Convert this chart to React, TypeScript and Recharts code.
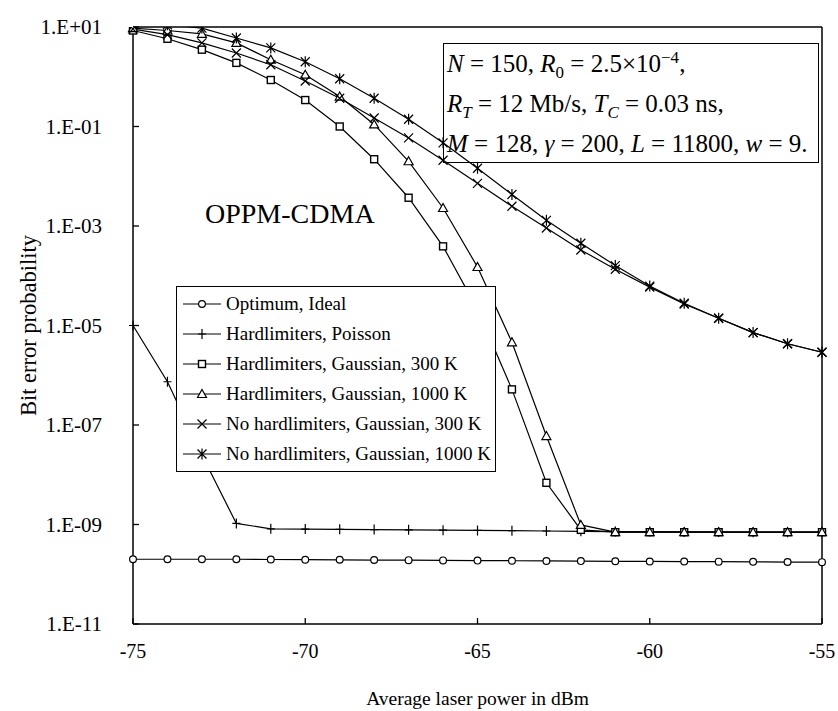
import React from 'react';
import { LineChart, Line, XAxis, YAxis, Legend, ReferenceLine } from 'recharts';

// laser power in dBm (x) and bit error probability for each curve
const power = [-75, -74, -73, -72, -71, -70, -69, -68, -67, -66, -65, -64, -63, -62, -61, -60, -59, -58, -57, -56, -55];

const optimumIdeal = [2.0e-10, 2.0e-10, 2.0e-10, 2.0e-10, 1.98e-10, 1.96e-10, 1.95e-10, 1.93e-10, 1.92e-10, 1.9e-10, 1.88e-10, 1.87e-10, 1.85e-10, 1.84e-10, 1.82e-10, 1.81e-10, 1.8e-10, 1.79e-10, 1.78e-10, 1.76e-10, 1.75e-10];
const hlPoisson = [1e-5, 7.4e-7, 2.5e-8, 1.05e-9, 8.2e-10, 8.1e-10, 8.0e-10, 7.9e-10, 7.8e-10, 7.7e-10, 7.6e-10, 7.5e-10, 7.4e-10, 7.3e-10, 7.2e-10, 7.2e-10, 7.1e-10, 7.1e-10, 7.0e-10, 7.0e-10, 7.0e-10];
const hlGauss300 = [8.5, 5.8, 3.5, 1.9, 0.86, 0.34, 0.1, 0.022, 3.7e-3, 3.9e-4, 2.1e-5, 5.2e-7, 6.9e-9, 7.8e-10, 7e-10, 7e-10, 7e-10, 7e-10, 7e-10, 7e-10, 7e-10];
const hlGauss1000 = [9.5, 8.5, 7.3, 4.8, 2.2, 1.1, 0.4, 0.11, 0.02, 2.3e-3, 1.5e-4, 4.6e-6, 6e-8, 9.8e-10, 7e-10, 7e-10, 7e-10, 7e-10, 7e-10, 7e-10, 7e-10];
const noHlGauss300 = [9.1, 7.0, 4.8, 3.0, 1.74, 0.82, 0.37, 0.148, 0.059, 0.021, 7.2e-3, 2.5e-3, 9.1e-4, 3.3e-4, 1.35e-4, 5.9e-5, 2.7e-5, 1.4e-5, 7.2e-6, 4.3e-6, 2.9e-6];
const noHlGauss1000 = [13, 11.1, 9.5, 6.0, 3.8, 2.0, 0.91, 0.37, 0.14, 0.047, 0.0145, 4.3e-3, 1.3e-3, 4.5e-4, 1.6e-4, 6.2e-5, 2.8e-5, 1.4e-5, 7.2e-6, 4.3e-6, 2.9e-6];

const yTicks = [10, 1e-1, 1e-3, 1e-5, 1e-7, 1e-9, 1e-11];
const yTickLabels = ['1.E+01', '1.E-01', '1.E-03', '1.E-05', '1.E-07', '1.E-09', '1.E-11'];
const xTicks = [-75, -70, -65, -60, -55];

const series = [
  { key: 'optimum', name: 'Optimum, Ideal', shape: 'circle', values: optimumIdeal },
  { key: 'poisson', name: 'Hardlimiters, Poisson', shape: 'plus', values: hlPoisson },
  { key: 'hl300', name: 'Hardlimiters, Gaussian, 300 K', shape: 'square', values: hlGauss300 },
  { key: 'hl1000', name: 'Hardlimiters, Gaussian, 1000 K', shape: 'triangle', values: hlGauss1000 },
  { key: 'nohl300', name: 'No hardlimiters, Gaussian, 300 K', shape: 'cross', values: noHlGauss300 },
  { key: 'nohl1000', name: 'No hardlimiters, Gaussian, 1000 K', shape: 'star', values: noHlGauss1000 },
];

const data = power.map((p, i) => {
  const row: Record<string, number> = { power: p };
  series.forEach(s => { row[s.key] = s.values[i]; });
  return row;
});

const FONT = '"Liberation Serif", "Times New Roman", serif';
const TICK_SIZE = 6;
const Y_TICK_MARGIN = 25;
const X_TICK_MARGIN = 21;

function Marker({ shape, cx, cy }: { shape: string; cx: number; cy: number }) {
  const sw = 1.2;
  switch (shape) {
    case 'circle':
      return <circle cx={cx} cy={cy} r={3.4} fill="#fff" stroke="#000" strokeWidth={sw} />;
    case 'plus':
      return <path d={`M${cx - 4},${cy}h8M${cx},${cy - 5}v10`} stroke="#000" strokeWidth={sw} fill="none" />;
    case 'square':
      return <rect x={cx - 3.5} y={cy - 3.5} width={7} height={7} fill="#fff" stroke="#000" strokeWidth={1.4} />;
    case 'triangle':
      return <path d={`M${cx},${cy - 4.5}L${cx + 4.5},${cy + 3.5}L${cx - 4.5},${cy + 3.5}Z`} fill="#fff" stroke="#000" strokeWidth={sw} />;
    case 'cross':
      return <path d={`M${cx - 4.5},${cy - 4.5}L${cx + 4.5},${cy + 4.5}M${cx - 4.5},${cy + 4.5}L${cx + 4.5},${cy - 4.5}`} stroke="#000" strokeWidth={sw} fill="none" />;
    case 'star':
      return <path d={`M${cx - 4.5},${cy - 4.5}L${cx + 4.5},${cy + 4.5}M${cx - 4.5},${cy + 4.5}L${cx + 4.5},${cy - 4.5}M${cx},${cy - 5.5}v11`} stroke="#000" strokeWidth={sw} fill="none" />;
    default:
      return null;
  }
}

const YTick = (props: any) => {
  const { x, y, payload } = props;
  const axisX = x + TICK_SIZE + Y_TICK_MARGIN;
  const idx = yTicks.findIndex(t => Math.round(Math.log10(t)) === Math.round(Math.log10(payload.value)));
  return (
    <g>
      <line x1={axisX} x2={axisX + TICK_SIZE} y1={y} y2={y} stroke="#000" strokeWidth={1.3} />
      <text x={x} y={y} dy="0.35em" textAnchor="end" fontFamily={FONT} fontSize={21} fill="#000">
        {yTickLabels[idx]}
      </text>
    </g>
  );
};

const XTick = (props: any) => {
  const { x, y, payload } = props;
  const axisY = y - TICK_SIZE - X_TICK_MARGIN;
  return (
    <g>
      <line x1={x} x2={x} y1={axisY} y2={axisY - TICK_SIZE} stroke="#000" strokeWidth={1.3} />
      <text x={x} y={y} dy="0.35em" textAnchor="middle" fontFamily={FONT} fontSize={20} fill="#000">
        {payload.value}
      </text>
    </g>
  );
};

const renderLegend = (props: any) => {
  const order = (k: string) => series.findIndex(s => s.key === k);
  const payload = [...(props.payload || [])].sort((a: any, b: any) => order(a.dataKey) - order(b.dataKey));
  return (
    <div style={{ border: '1.5px solid #000', background: '#fff', padding: '2px 0 2px 5px', fontFamily: FONT, fontSize: 19, color: '#000' }}>
      {payload.map((entry: any) => {
        const s = series.find(x => x.key === entry.dataKey);
        return (
          <div key={entry.dataKey} style={{ display: 'flex', alignItems: 'center', height: 30 }}>
            <svg width={40} height={14} style={{ flex: 'none' }}>
              <line x1={1} x2={39} y1={7} y2={7} stroke="#000" strokeWidth={1.2} />
              <Marker shape={s ? s.shape : ''} cx={20} cy={7} />
            </svg>
            <span style={{ marginLeft: 4, whiteSpace: 'nowrap' }}>{entry.value}</span>
          </div>
        );
      })}
    </div>
  );
};

const sub: React.CSSProperties = { fontSize: '0.68em', verticalAlign: '-0.35em', lineHeight: 0 };
const sup: React.CSSProperties = { fontSize: '0.68em', verticalAlign: '0.55em', lineHeight: 0 };

export default function App() {
  return (
    <div style={{ position: 'absolute', left: 0, top: 0, width: 838, height: 711, background: '#fff' }}>
      <LineChart width={838} height={711} data={data} margin={{ top: 27, right: 16, left: 0, bottom: 0 }}>
        <XAxis
          dataKey="power"
          type="number"
          domain={[-75, -55]}
          ticks={xTicks}
          height={87}
          tickSize={TICK_SIZE}
          tickMargin={X_TICK_MARGIN}
          tickLine={false}
          tick={(p: any) => <XTick {...p} />}
          axisLine={{ stroke: '#000', strokeWidth: 1.5 }}
          label={{ value: 'Average laser power in dBm', position: 'insideBottom', offset: 6, fill: '#000', fontFamily: FONT, fontSize: 19.5 }}
        />
        <YAxis
          type="number"
          scale="log"
          domain={[1e-11, 10]}
          allowDataOverflow
          ticks={yTicks}
          width={133}
          tickSize={TICK_SIZE}
          tickMargin={Y_TICK_MARGIN}
          tickLine={false}
          tick={(p: any) => <YTick {...p} />}
          axisLine={{ stroke: '#000', strokeWidth: 1.5 }}
          label={{ value: 'Bit error probability', angle: -90, position: 'insideLeft', offset: 28, fill: '#000', fontFamily: FONT, fontSize: 22.5, style: { textAnchor: 'middle' } }}
        />
        <ReferenceLine y={10} stroke="#000" strokeWidth={1.5} />
        <ReferenceLine x={-55} stroke="#000" strokeWidth={1.5} />
        {series.map(s => (
          <Line
            key={s.key}
            dataKey={s.key}
            name={s.name}
            type="linear"
            stroke="#000"
            strokeWidth={1.2}
            isAnimationActive={false}
            dot={(p: any) => <Marker key={`${s.key}-${p.index}`} shape={s.shape} cx={p.cx} cy={p.cy} />}
            activeDot={false}
          />
        ))}
        <Legend
          layout="vertical"
          align="center"
          verticalAlign="middle"
          content={renderLegend}
          wrapperStyle={{ left: 176, top: 286, width: 320, height: 'auto' }}
        />
      </LineChart>
      <div style={{ position: 'absolute', left: 205, top: 200, fontFamily: FONT, fontSize: 28, lineHeight: '28px', color: '#000', whiteSpace: 'nowrap' }}>
        OPPM-CDMA
      </div>
      <div style={{ position: 'absolute', left: 443, top: 43, width: 371, height: 118, border: '1.5px solid #000', paddingLeft: 3, fontFamily: FONT, fontSize: 25, lineHeight: '40px', color: '#000', whiteSpace: 'nowrap', boxSizing: 'content-box' }}>
        <div><i>N</i> = 150, <i>R</i><span style={sub}>0</span> = 2.5×10<span style={sup}>−4</span>,</div>
        <div><i>R</i><span style={sub}><i>T</i></span> = 12 Mb/s, <i>T</i><span style={sub}><i>C</i></span> = 0.03 ns,</div>
        <div><i>M</i> = 128, <i>γ</i> = 200, <i>L</i> = 11800, <i>w</i> = 9.</div>
      </div>
    </div>
  );
}
